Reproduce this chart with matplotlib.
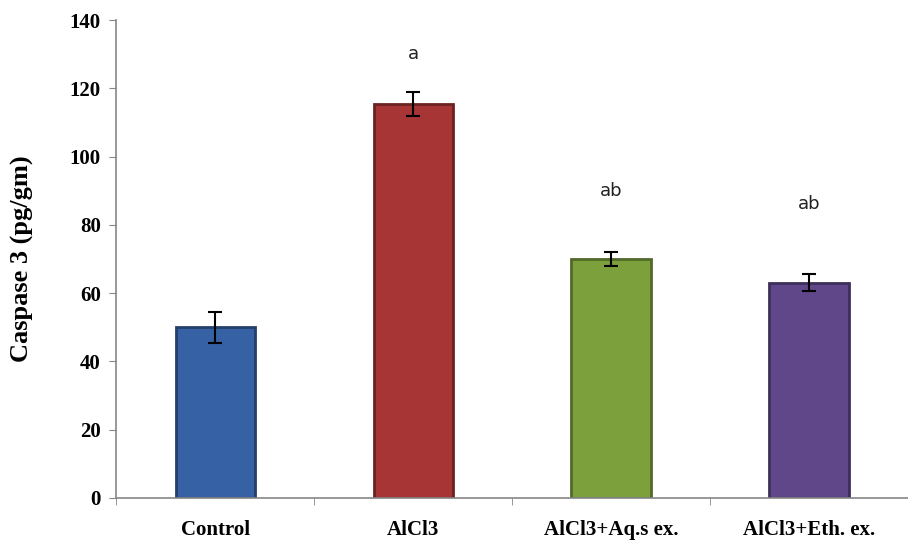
import numpy as np
import matplotlib.pyplot as plt

groups = ['Control', 'AlCl3', 'AlCl3+Aq.s ex.', 'AlCl3+Eth. ex.']
means = [50, 115.5, 70, 63]
errors = [4.5, 3.5, 2.0, 2.5]
letters = ['', 'a', 'ab', 'ab']
letter_y = [None, 130, 90, 86]

face_colors = ['#3662a5', '#a83535', '#7ca13c', '#5f4789']
edge_colors = ['#243f6b', '#6b2222', '#52692a', '#3d2f5a']

fig = plt.figure(figsize=(9.08, 5.46), dpi=100)
ax = fig.add_axes([0.128, 0.088, 0.872, 0.875])

x = np.arange(len(groups))
ax.bar(x, means, width=0.4, color=face_colors, edgecolor=edge_colors, linewidth=2, zorder=2)
ax.errorbar(x, means, yerr=errors, fmt='none', ecolor='black', elinewidth=1.5,
            capsize=5, capthick=1.5, zorder=3)

for xi, lab, ly in zip(x, letters, letter_y):
    if lab:
        ax.text(xi, ly, lab, ha='center', va='center', fontsize=13,
                family='DejaVu Sans', color='#222222')

ax.set_xlim(-0.5, 3.5)
ax.set_ylim(0, 140)
ax.set_yticks(np.arange(0, 141, 20))
ax.set_xticks(x)
ax.set_xticklabels(groups, family='Liberation Serif', fontweight='bold', fontsize=15)
ax.set_xticks(np.arange(-0.5, 3.6, 1), minor=True)
ax.tick_params(axis='x', which='major', length=0, pad=16)
ax.tick_params(axis='x', which='minor', length=5, color='#868686', direction='out')
ax.tick_params(axis='y', length=5, color='#868686', direction='out', pad=6)
for lbl in ax.get_yticklabels():
    lbl.set_family('Liberation Serif')
    lbl.set_fontweight('bold')
    lbl.set_fontsize(15)

ax.set_ylabel('Caspase 3 (pg/gm)', family='Liberation Serif', fontweight='bold',
              fontsize=19, labelpad=26)

for s in ['top', 'right']:
    ax.spines[s].set_visible(False)
for s in ['left', 'bottom']:
    ax.spines[s].set_color('#868686')
    ax.spines[s].set_linewidth(1.2)

fig.savefig('out.png', dpi=100)
